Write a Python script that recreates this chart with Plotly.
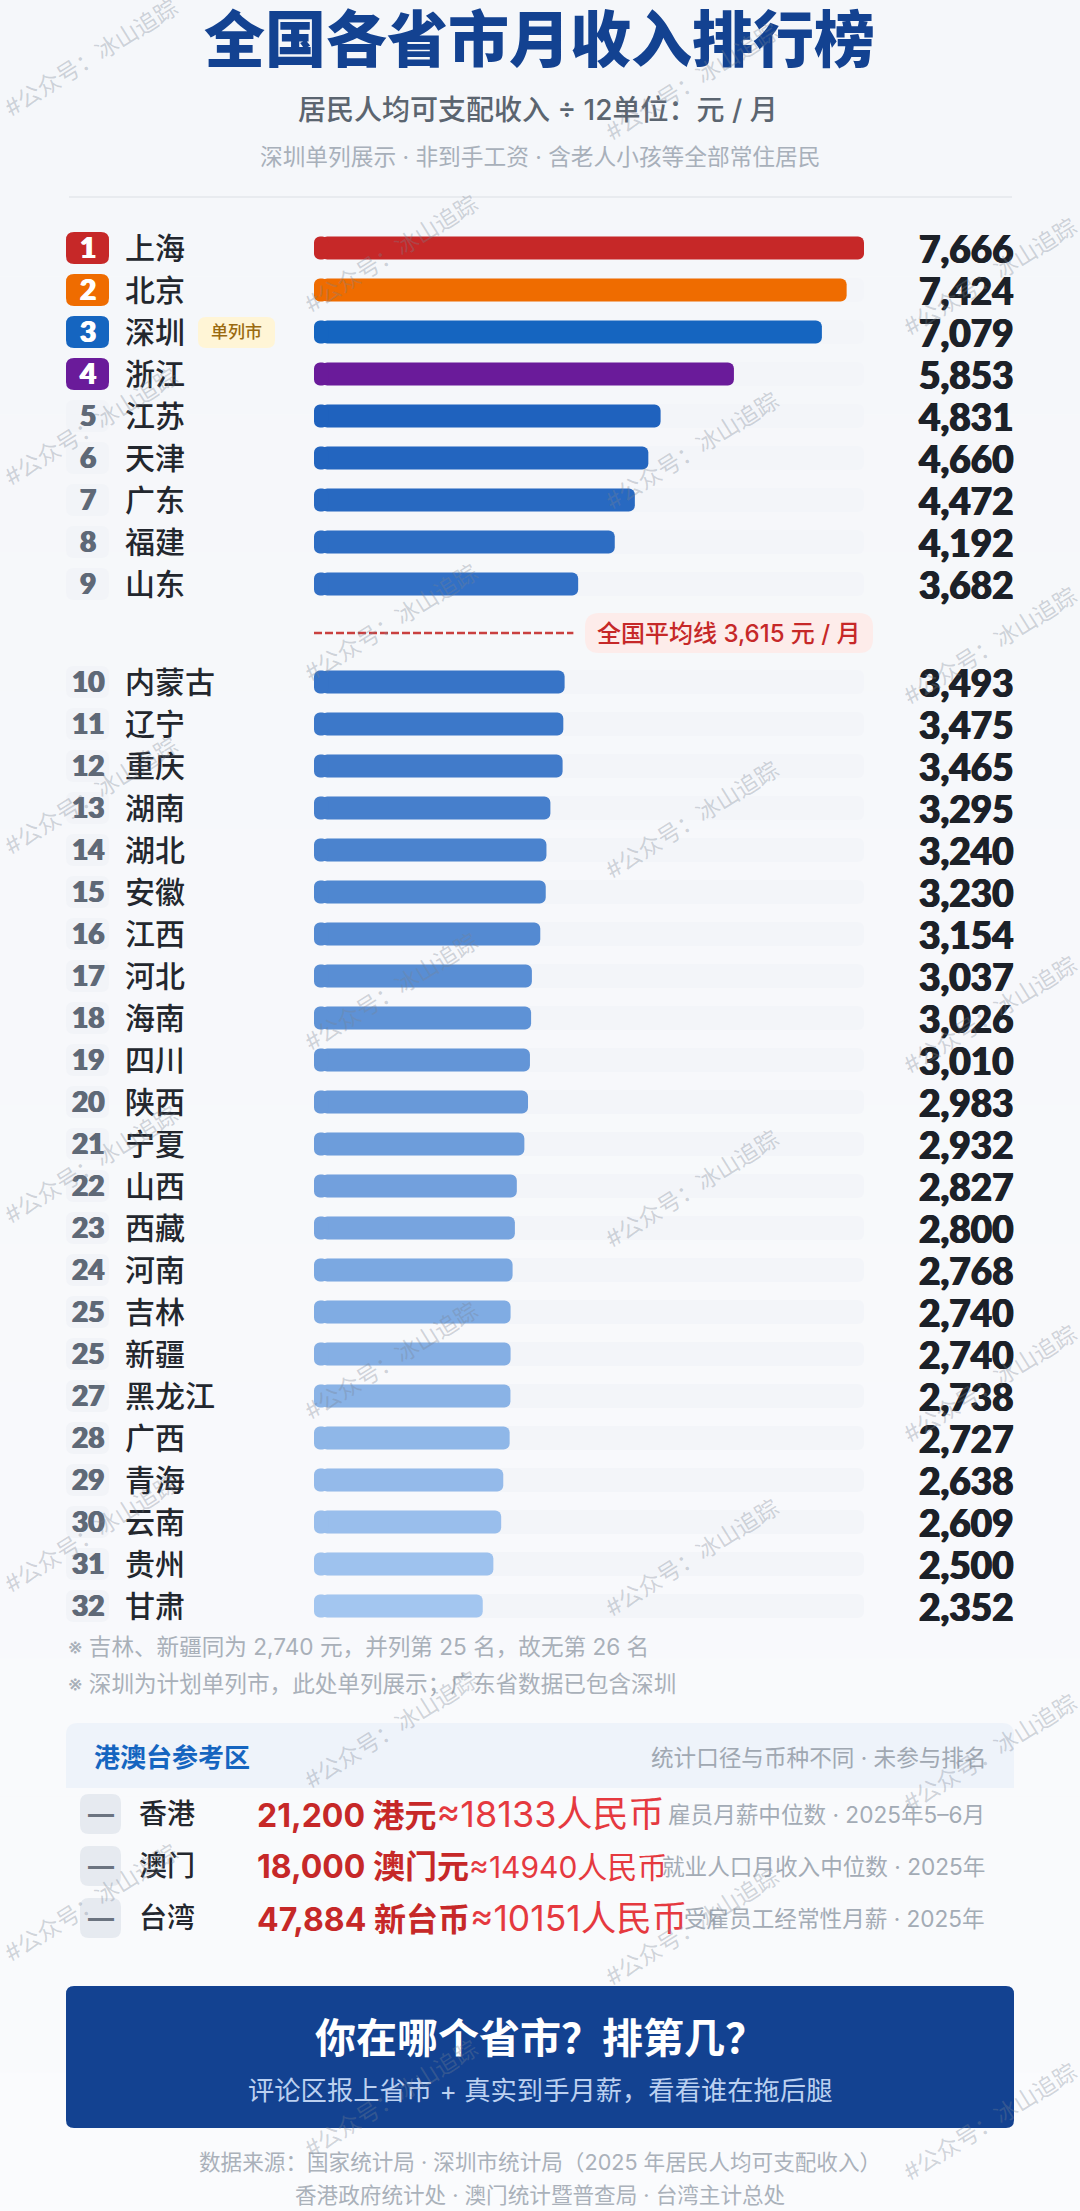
import plotly.graph_objects as go

ranks = [1, 2, 3, 4, 5, 6, 7, 8, 9, 10, 11, 12, 13, 14, 15, 16, 17, 18, 19, 20, 21, 22, 23, 24, 25, 25, 27, 28, 29, 30, 31, 32]
names = ["上海", "北京", "深圳", "浙江", "江苏", "天津", "广东", "福建", "山东", "内蒙古", "辽宁", "重庆", "湖南", "湖北", "安徽", "江西",
         "河北", "海南", "四川", "陕西", "宁夏", "山西", "西藏", "河南", "吉林", "新疆", "黑龙江", "广西", "青海", "云南", "贵州", "甘肃"]
incomes = [7666, 7424, 7079, 5853, 4831, 4660, 4472, 4192, 3682, 3493, 3475, 3465, 3295, 3240, 3230, 3154,
           3037, 3026, 3010, 2983, 2932, 2827, 2800, 2768, 2740, 2740, 2738, 2727, 2638, 2609, 2500, 2352]
national_avg = 3615

ref_names = ["香港", "澳门", "台湾"]
ref_local = ["21,200 港元", "18,000 澳门元", "47,884 新台币"]
ref_rmb = ["≈18133人民币", "≈14940人民币", "≈10151人民币"]
ref_notes = ["雇员月薪中位数 · 2025年5–6月", "就业人口月收入中位数 · 2025年", "受雇员工经常性月薪 · 2025年"]

W, H = 1080, 2211
CJK = "Inter, 'Noto Sans CJK SC'"
NUM = "Lato"
NAVY = "#134291"
INK = "#1C2128"
THICK = "0.7px 0 0 {0}, -0.7px 0 0 {0}"

top_colors = ["#C62828", "#EF6C00", "#1565C0", "#6A1B9A"]


def blue(i):
    # lighter and lighter from rank 5 down
    t = (i - 4) / 27
    a, b = (31, 98, 190), (163, 198, 240)
    return "rgb(%d,%d,%d)" % tuple(a[k] + (b[k] - a[k]) * t for k in range(3))


bar_colors = top_colors + [blue(i) for i in range(4, 32)]

# y axis runs in page pixels, rows are 42 apart with a gap for the average line
row_y = [248 + 42 * i if i < 9 else 682 + 42 * (i - 9) for i in range(32)]
avg_y = 633


def rrect(x0, y0, x1, y1, r, top_only=False):
    lo = 0 if top_only else r
    u = 1 / W
    return (f"M{(x0+r)*u},{y0} L{(x1-r)*u},{y0} Q{x1*u},{y0} {x1*u},{y0+r} L{x1*u},{y1-lo} Q{x1*u},{y1} {(x1-lo)*u},{y1} "
            f"L{(x0+lo)*u},{y1} Q{x0*u},{y1} {x0*u},{y1-lo} L{x0*u},{y0+r} Q{x0*u},{y0} {(x0+r)*u},{y0} Z")


shapes = []
ann = []


def box(x0, y0, x1, y1, r, color, top_only=False):
    shapes.append(dict(type="path", path=rrect(x0, y0, x1, y1, r, top_only), xref="paper", yref="y",
                       fillcolor=color, line_width=0, layer="below"))


def text(x, y, s, size, color, anchor="center", family=CJK, weight=400, shadow=None, **kw):
    font = dict(size=size, color=color, family=family, weight=weight)
    if shadow:
        font["shadow"] = shadow
    ann.append(dict(x=x / W, y=y, xref="paper", yref="y", text=s, showarrow=False, xanchor=anchor, yanchor="middle",
                    borderpad=0, font=font, **kw))


# soft page gradient, a bit lighter towards the bottom
for b in range(16):
    g = b / 15
    shapes.append(dict(type="rect", x0=0, x1=1, y0=H * b / 16, y1=H * (b + 1) / 16, xref="paper", yref="y", line_width=0, layer="below",
                       fillcolor="rgb(%d,%d,%d)" % (245 + 5 * g, 247 + 4 * g, 250 + 3 * g)))

fig = go.Figure()

# plotly only rounds the far end of a bar, so a short cap running back to zero rounds the left end
CAP = 100
track_max = max(incomes)
track = "#F3F5F9"
fig.add_trace(go.Bar(x=[track_max - CAP] * 32, base=CAP, y=row_y, orientation="h", width=24, marker_color=track, hoverinfo="skip"))
fig.add_trace(go.Bar(x=[-2 * CAP] * 32, base=2 * CAP, y=row_y, orientation="h", width=24, marker_color=track, hoverinfo="skip"))
fig.add_trace(go.Bar(x=[v - CAP for v in incomes], base=CAP, y=row_y, orientation="h", width=23, marker_color=bar_colors))
fig.add_trace(go.Bar(x=[-2 * CAP] * 32, base=2 * CAP, y=row_y, orientation="h", width=23, marker_color=bar_colors, hoverinfo="skip"))
fig.update_traces(marker_line_width=0)
fig.add_trace(go.Scatter(x=[0, national_avg], y=[avg_y, avg_y], mode="lines",
                         line=dict(color="#C9403F", width=2.5, dash="8px,3px")))

# Header
text(539, 40, "全国各省市月收入排行榜", 61, NAVY, weight=900)
text(538, 110, "居民人均可支配收入 ÷ 12单位：元 / 月", 28, "#5B6570", weight=500)
text(540, 156, "深圳单列展示 · 非到手工资 · 含老人小孩等全部常住居民", 22.7, "#A8B0BA")
shapes.append(dict(type="line", x0=69 / W, x1=1012 / W, y0=197, y1=197, xref="paper", yref="y", line=dict(color="#E8EBEF", width=2), layer="below"))

# Ranking rows
for i, (rk, nm, val, y) in enumerate(zip(ranks, names, incomes, row_y)):
    box(66, y - 16, 109, y + 16, 8, top_colors[i] if i < 4 else "#F2F4F8")
    num_color = "#FFFFFF" if i < 4 else "#5F6977"
    text(87.5, y - 1, str(rk), 28, num_color, family=NUM, weight=900, shadow=THICK.format(num_color))
    text(124, y, nm, 30, "#23272E", anchor="left", weight=500)
    text(1015, y, f"{val:,}", 37, INK, anchor="right", family=NUM, weight=900, shadow=THICK.format(INK))

box(198, 317, 275, 348, 8, "#FFF5D6")
text(236.5, 332, "单列市", 17, "#9A6A10", weight=500)

box(585, 613, 873, 653, 14, "#FDECEA")
text(729, 633, f"全国平均线 {national_avg:,} 元 / 月", 24, "#C62828", weight=500)

# Notes
text(67, 1646, "※ 吉林、新疆同为 2,740 元，并列第 25 名，故无第 26 名", 22.6, "#A9B0B9", anchor="left")
text(67, 1683, "※ 深圳为计划单列市，此处单列展示；广东省数据已包含深圳", 22.6, "#A9B0B9", anchor="left")

# Reference panel
box(66, 1723, 1014, 1788, 12, "#EEF3FA", top_only=True)
text(93, 1757, "港澳台参考区", 26, "#1565C0", anchor="left", weight=700)
text(988, 1757, "统计口径与币种不同 · 未参与排名", 22.6, "#A0A8B2", anchor="right")
for nm, loc, rmb, note, y, rs in zip(ref_names, ref_local, ref_rmb, ref_notes, [1814, 1866, 1918], [36, 30, 35.5]):
    box(80, y - 20, 121, y + 20, 9, "#E6EAF0")
    text(100.5, y - 1, "—", 26, "#6B7480", weight=700)
    text(138, y, nm, 28, "#23272E", anchor="left", weight=500)
    text(256, y, f"<b>{loc}</b><span style='font-size:{rs}px;color:#E5393F'>{rmb}</span>", 32, "#C62828", anchor="left")
    text(986, y, note, 22.6, "#A3ABB5", anchor="right")

# Banner
box(66, 1986, 1014, 2128, 8, NAVY)
text(540, 2038, "你在哪个省市？排第几？", 41, "#FFFFFF", weight=700)
text(540, 2090, "评论区报上省市 + 真实到手月薪，看看谁在拖后腿", 26.3, "#BBD0F0")

# Footer
text(540, 2162, "数据来源：国家统计局 · 深圳市统计局（2025 年居民人均可支配收入）", 21.6, "#AAB1BA")
text(540, 2195, "香港政府统计处 · 澳门统计暨普查局 · 台湾主计总处", 21.6, "#AAB1BA")

# Watermark
for x0, y0 in [(91, 58), (391, 254), (692, 82), (990, 277)]:
    for k in range(6):
        text(x0, y0 + 369 * k, "#公众号：冰山追踪", 23, "rgba(120,130,145,0.32)", textangle=-32)

fig.update_layout(
    width=W,
    height=H,
    margin=dict(l=0, r=0, t=0, b=0),
    paper_bgcolor="#F7F9FB",
    plot_bgcolor="rgba(0,0,0,0)",
    barmode="overlay",
    barcornerradius=6,
    showlegend=False,
    shapes=shapes,
    annotations=ann,
    xaxis=dict(domain=[314 / W, 864 / W], range=[0, track_max], visible=False, fixedrange=True),
    yaxis=dict(domain=[0, 1], range=[H, 0], visible=False, fixedrange=True),
)

fig.write_html("out.html", config={"displayModeBar": False}, post_script="document.body.style.margin='0';")
